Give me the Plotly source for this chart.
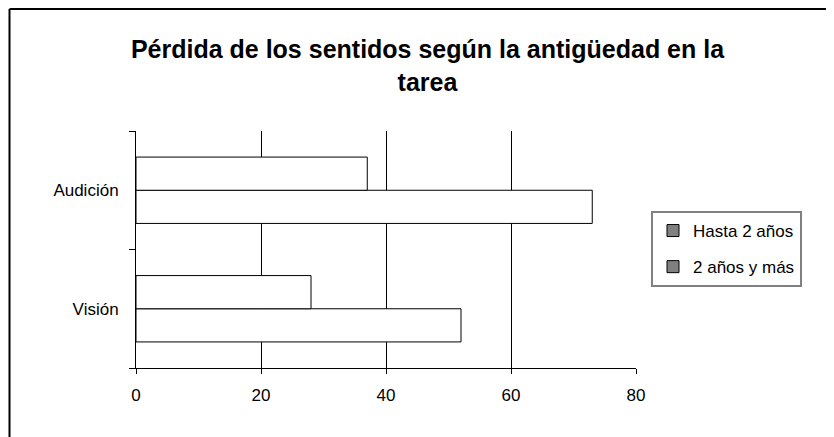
import plotly.graph_objects as go

categories = ["Visión", "Audición"]
series_names = ["Hasta 2 años", "2 años y más"]
hasta_2 = [52, 73]
dos_y_mas = [28, 37]
x_ticks = [0, 20, 40, 60, 80]
title_text = "Pérdida de los sentidos según la antigüedad en la<br>tarea"

FONT = "Liberation Sans, Arial, sans-serif"
W, H = 834, 437
# page body has an 8px margin; figure coordinates = screen - 8
L, R, T, B = 128, 628, 123, 360

fig = go.Figure()
for i, (name, vals) in enumerate(zip(series_names, [hasta_2, dos_y_mas])):
    fig.add_trace(go.Bar(
        y=categories, x=vals, orientation="h", name=name,
        marker=dict(color="white", line=dict(color="black", width=1)),
        showlegend=False, offsetgroup=f"s{i}",
    ))
# legend-only entries (grey swatches as in the reference)
for i, name in enumerate(series_names):
    fig.add_trace(go.Bar(
        y=[None], x=[None], orientation="h", name=name,
        marker=dict(color="#808080", line=dict(color="black", width=1)),
        showlegend=True, legendgroup=f"g{i}", offsetgroup=f"s{i}",
    ))

pw, ph = R - L, B - T
fig.update_layout(
    width=W, height=H,
    margin=dict(l=L, r=W - R, t=T, b=H - B),
    paper_bgcolor="white", plot_bgcolor="white",
    font=dict(family=FONT, size=17, color="black"),
    barmode="group", bargap=0.44, bargroupgap=0,
    title=dict(text=title_text, x=419.5 / W, xref="container", xanchor="center",
               y=1 - 50 / H, yref="container", yanchor="top",
               font=dict(family=FONT, size=25, color="black", weight="bold")),
    showlegend=True,
    legend=dict(x=(643 - L) / pw, xanchor="left", y=(B - 241) / ph, yanchor="middle",
                bordercolor="#808080", borderwidth=2, bgcolor="white",
                font=dict(size=17), tracegroupgap=11,
                itemwidth=30, traceorder="grouped"),
    xaxis=dict(range=[0, 80], tickvals=x_ticks, showgrid=True,
               gridcolor="black", gridwidth=1, showline=True,
               linecolor="black", linewidth=1, ticks="outside", ticklen=5,
               tickcolor="black", zeroline=False, ticklabelstandoff=7),
    yaxis=dict(type="category", categoryorder="array", categoryarray=categories,
               showline=True, linecolor="black", linewidth=1, ticks="outside",
               tickson="boundaries", ticklen=6, tickcolor="black",
               showgrid=False, ticklabelstandoff=13),
    shapes=[
        dict(type="line", xref="paper", yref="paper",
             x0=(1.5 - L) / pw, x1=(W + 10 - L) / pw,
             y0=(B - 1) / ph, y1=(B - 1) / ph,
             line=dict(color="black", width=2)),
        dict(type="line", xref="paper", yref="paper",
             x0=(1.5 - L) / pw, x1=(1.5 - L) / pw,
             y0=(B - 1) / ph, y1=(B - H - 10) / ph,
             line=dict(color="black", width=2)),
    ],
)

fig.write_html("out.html")
